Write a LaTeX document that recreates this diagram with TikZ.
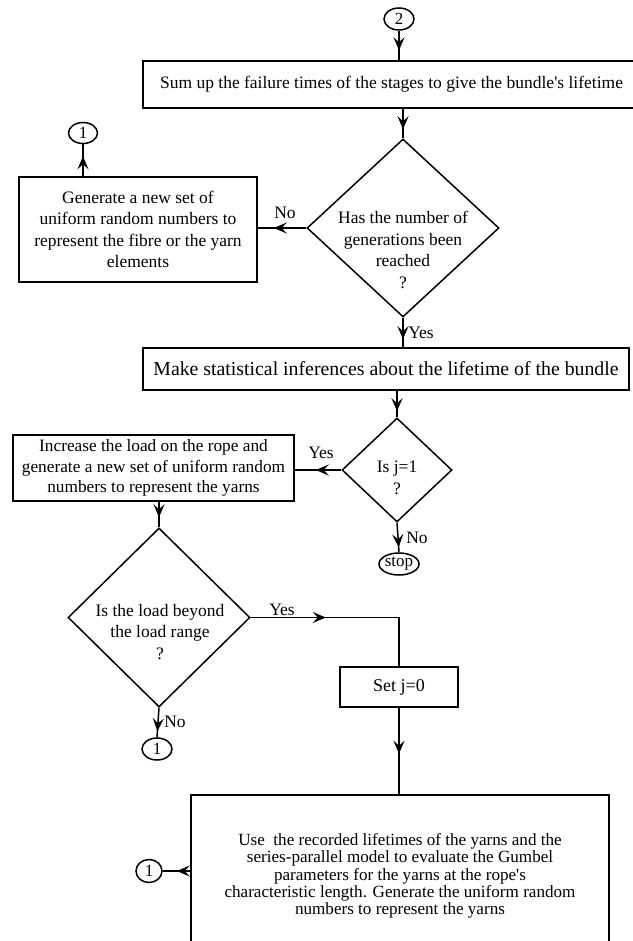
\documentclass[tikz,border=0pt]{standalone}
\usepackage{fontspec}
\setmainfont{Liberation Serif}
\usetikzlibrary{arrows.meta,decorations.markings,shapes.geometric}
\tikzset{
  ln/.style={line width=1.5pt},
  box/.style={draw, line width=1.5pt, rectangle, inner sep=0pt, align=center, font=\fontsize{17.5}{21.5}\selectfont},
  dia/.style={draw, line width=1.5pt, diamond, inner sep=0pt},
  txt/.style={align=center, inner sep=0pt, font=\fontsize{17.5}{21.5}\selectfont},
  conn/.style={draw, ellipse, line width=1.5pt, inner sep=0pt, font=\fontsize{17}{17}\selectfont},
  arrowpos/.style={postaction={decorate}, decoration={markings, mark=at position #1 with {\arrow{Stealth[length=13pt,width=11pt,inset=5pt]}}}},
}
\begin{document}
\begin{tikzpicture}[x=1pt,y=-1pt]
\useasboundingbox (0,0) rectangle (632,941);
% nodes
\node[conn, minimum width=30pt, minimum height=22pt] (c2) at (399,19) {2};
\node[box, minimum width=497pt, minimum height=47pt] (box1) at (391.5,84.5) {Sum up the failure times of the stages to give the bundle\textquotesingle s lifetime};
\node[dia, minimum width=192pt, minimum height=178pt] (d1) at (403,228) {};
\node[txt] (d1t) at (403,250) {Has the number of\\generations been\\reached\\?};
\node[box, minimum width=238pt, minimum height=105pt] (genbox) at (138,229.5) {Generate a new set of\\uniform random numbers to\\represent the fibre or the yarn\\elements};
\node[conn, minimum width=29pt, minimum height=21pt] (c1a) at (83,133) {1};
\node[box, minimum width=486pt, minimum height=42pt, font=\fontsize{19.8}{22}\selectfont] (box2) at (386,369) {Make statistical inferences about the lifetime of the bundle};
\node[dia, minimum width=110pt, minimum height=104pt] (d2) at (397,470) {};
\node[txt] (d2t) at (397,478) {Is j=1\\?};
\node[box, minimum width=281pt, minimum height=66pt, font=\fontsize{17.3}{20.8}\selectfont] (box3) at (153.5,468) {Increase the load on the rope and\\generate a new set of uniform random\\numbers to represent the yarns};
\node[conn, minimum width=40pt, minimum height=22pt, font=\fontsize{17}{17}\selectfont] (stop) at (399,564) {stop};
\node[dia, minimum width=182pt, minimum height=179pt] (d3) at (159,617.5) {};
\node[txt] (d3t) at (160,632) {Is the load beyond\\the load range\\?};
\node[box, minimum width=118pt, minimum height=40pt, font=\fontsize{18}{20}\selectfont] (setj) at (399,687) {Set j=0};
\node[conn, minimum width=30pt, minimum height=22pt] (c1b) at (157,749) {1};
\node[box, minimum width=418pt, minimum height=162pt, font=\fontsize{17.1}{17.4}\selectfont] (bbox) at (400,876) {Use~ the recorded lifetimes of the yarns and the\\series-parallel model to evaluate the Gumbel\\parameters for the yarns at the rope\textquotesingle s\\characteristic length. Generate the uniform random\\numbers to represent the yarns};
\node[conn, minimum width=26pt, minimum height=23pt] (c1c) at (149,871) {1};
% labels
\node[txt] (lno1) at (285,213) {No};
\node[txt] (lyes1) at (421,333) {Yes};
\node[txt] (lyes2) at (321,453) {Yes};
\node[txt] (lno2) at (417,538) {No};
\node[txt] (lyes3) at (282,610) {Yes};
\node[txt] (lno3) at (175,722) {No};
% connectors
\draw[ln, arrowpos=-10pt] (c2.south) -- (c2.south |- box1.north);
\draw[ln, arrowpos=-9pt] (d1.north |- box1.south) -- (d1.north);
\draw[ln, arrowpos=-16pt] (d1.west) -- (d1.west -| genbox.east);
\draw[ln, arrowpos=-12pt] (c1a.south |- genbox.north) -- (c1a.south);
\draw[ln, arrowpos=-8pt] (d1.south) -- (d1.south |- box2.north);
\draw[ln, arrowpos=-6pt] (d2.north |- box2.south) -- (d2.north);
\draw[ln, arrowpos=-21pt] (d2.west) -- (d2.west -| box3.east);
\draw[ln, arrowpos=-5pt] (d2.south) -- (stop.north);
\draw[ln, arrowpos=-10pt] (d3.north |- box3.south) -- (d3.north);
\draw[ln, arrowpos=75pt] (d3.east) -| (setj.north);
\draw[ln, arrowpos=-6pt] (d3.south) -- (c1b.north);
\draw[ln, arrowpos=46pt] (setj.south) -- (setj.south |- bbox.north);
\draw[ln, arrowpos=-14pt] (bbox.west |- c1c.east) -- (c1c.east);
\end{tikzpicture}
\end{document}
